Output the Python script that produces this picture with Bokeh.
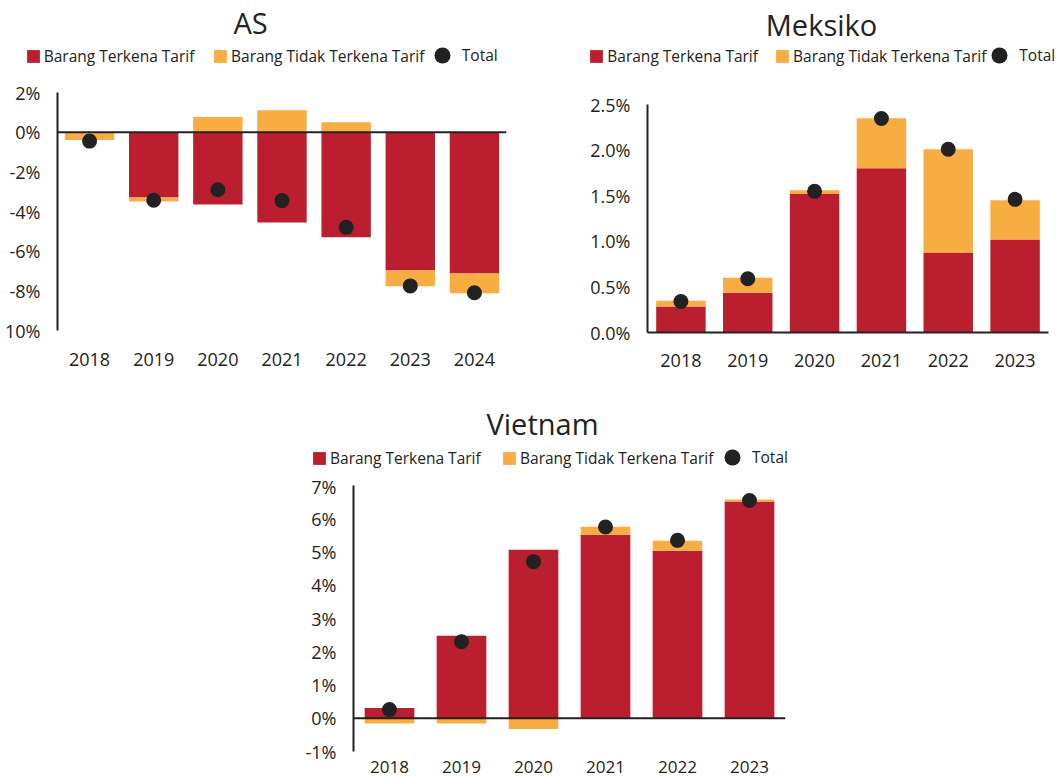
from bokeh.plotting import figure
from bokeh.models import (ColumnDataSource, FactorRange, Range1d, FixedTicker, Legend,
                          LegendItem, Label, Span, Spacer)
from bokeh.layouts import row, column
from bokeh.embed import file_html
from bokeh.resources import INLINE

# ---------------- data ----------------
as_years = ["2018", "2019", "2020", "2021", "2022", "2023", "2024"]
as_tarif = [0.0, -3.3, -3.65, -4.55, -5.3, -6.97, -7.12]
as_non_tarif = [-0.4, -0.2, 0.76, 1.1, 0.5, -0.8, -1.0]
as_total = [-0.45, -3.43, -2.9, -3.45, -4.8, -7.75, -8.1]
as_ticks = [2, 0, -2, -4, -6, -8, -10]
as_tick_labels = ["2%", "0%", "-2%", "-4%", "-6%", "-8%", "10%"]

mx_years = ["2018", "2019", "2020", "2021", "2022", "2023"]
mx_tarif = [0.286, 0.437, 1.518, 1.80, 0.877, 1.02]
mx_non_tarif = [0.063, 0.163, 0.041, 0.55, 1.133, 0.429]
mx_total = [0.34, 0.59, 1.548, 2.347, 2.01, 1.46]
mx_ticks = [0.0, 0.5, 1.0, 1.5, 2.0, 2.5]
mx_tick_labels = ["0.0%", "0.5%", "1.0%", "1.5%", "2.0%", "2.5%"]

vn_years = ["2018", "2019", "2020", "2021", "2022", "2023"]
vn_tarif = [0.31, 2.48, 5.07, 5.52, 5.04, 6.52]
vn_non_tarif = [-0.16, -0.16, -0.32, 0.24, 0.30, 0.06]
vn_total = [0.26, 2.30, 4.71, 5.75, 5.35, 6.55]
vn_ticks = [-1, 0, 1, 2, 3, 4, 5, 6, 7]
vn_tick_labels = ["-1%", "0%", "1%", "2%", "3%", "4%", "5%", "6%", "7%"]

titles = ["AS", "Meksiko", "Vietnam"]
legend_labels = ["Barang Terkena Tarif", "Barang Tidak Terkena Tarif", "Total"]

RED = "#BB1E2F"
ORANGE = "#F7AD42"
DARK = "#222222"
FONT = "Open Sans"


def stack(tarif, non):
    rb, rt, ob, ot = [], [], [], []
    for r, o in zip(tarif, non):
        rb.append(0.0)
        rt.append(r)
        if r == 0 or (r > 0) == (o > 0):
            ob.append(r)
            ot.append(r + o)
        else:
            ob.append(0.0)
            ot.append(o)
    return rb, rt, ob, ot


def legend_box(rend, lab, loc, gw, gh, standoff):
    return Legend(items=[LegendItem(label=lab, renderers=[rend], index=0)],
                  location=loc, orientation="horizontal",
                  glyph_width=gw, glyph_height=gh, label_standoff=standoff,
                  padding=0, margin=0, spacing=0,
                  border_line_color=None, background_fill_alpha=0,
                  label_text_font=FONT, label_text_font_size="15.5px",
                  label_text_color=DARK, label_text_baseline="middle")


def make_header(width, height, title, title_xy, leg_x, sq_y, dot_y):
    h = figure(x_range=Range1d(0, width), y_range=Range1d(0, height),
               width=width, height=height, output_backend="svg",
               toolbar_location=None, title=None, x_axis_type=None, y_axis_type=None,
               min_border=0, min_border_left=0, min_border_right=0,
               min_border_top=0, min_border_bottom=0, frame_align=False)
    h.outline_line_color = None
    h.xgrid.visible = False
    h.ygrid.visible = False
    h.background_fill_color = None
    h.border_fill_color = None
    # legend proxies, kept outside the visible range
    proxy = ColumnDataSource(dict(x=[-500], y=[-500]))
    r1 = h.vbar(x="x", top="y", bottom=-501, width=1, source=proxy,
                fill_color=RED, line_color=None)
    r2 = h.vbar(x="x", top="y", bottom=-501, width=1, source=proxy,
                fill_color=ORANGE, line_color=None)
    r3 = h.scatter(x="x", y="y", source=proxy, marker="circle", size=16,
                   fill_color=DARK, line_color=None)
    h.add_layout(legend_box(r1, legend_labels[0], (leg_x[0], sq_y), 16, 16, 3), "center")
    h.add_layout(legend_box(r2, legend_labels[1], (leg_x[1], sq_y), 16, 16, 3), "center")
    h.add_layout(legend_box(r3, legend_labels[2], (leg_x[2], dot_y), 40, 40, 0), "center")
    h.add_layout(Label(x=title_xy[0], y=title_xy[1], x_units="screen", y_units="screen",
                       text=title, text_align="center", text_baseline="middle",
                       text_font=FONT, text_font_size="29px", text_color=DARK))
    return h


def make_chart(years, tarif, non, total, ticks, tick_labels, y0, y1,
               width, height, borders, bar_w, x_standoff, x_font, bottom_axis_line):
    bl, br, bt, bb = borders
    p = figure(x_range=FactorRange(*years, range_padding=0),
               y_range=Range1d(y0, y1),
               width=width, height=height, output_backend="svg",
               toolbar_location=None, title=None, frame_align=False,
               min_border_left=bl, min_border_right=br,
               min_border_top=bt, min_border_bottom=bb)
    p.outline_line_color = None
    p.xgrid.visible = False
    p.ygrid.visible = False
    p.background_fill_color = None
    p.border_fill_color = None

    rb, rt, ob, ot = stack(tarif, non)
    src = ColumnDataSource(dict(x=years, rb=rb, rt=rt, ob=ob, ot=ot, total=total))
    p.vbar(x="x", bottom="rb", top="rt", width=bar_w, source=src,
           fill_color=RED, line_color=None)
    p.vbar(x="x", bottom="ob", top="ot", width=bar_w, source=src,
           fill_color=ORANGE, line_color=None)
    if not bottom_axis_line:
        p.add_layout(Span(location=0, dimension="width", line_color=DARK, line_width=2))
    p.scatter(x="x", y="total", source=src, size=15, marker="circle",
              fill_color=DARK, line_color=None)

    p.yaxis.ticker = FixedTicker(ticks=ticks)
    p.yaxis.major_label_overrides = {t: l for t, l in zip(ticks, tick_labels)}
    p.yaxis.major_tick_line_color = None
    p.yaxis.minor_tick_line_color = None
    p.yaxis.axis_line_color = DARK
    p.yaxis.axis_line_width = 2
    p.yaxis.major_label_standoff = 11
    p.yaxis.major_label_text_font = FONT
    p.yaxis.major_label_text_font_size = "18px"
    p.yaxis.major_label_text_color = DARK

    p.xaxis.major_tick_line_color = None
    p.xaxis.minor_tick_line_color = None
    p.xaxis.axis_line_color = DARK if bottom_axis_line else None
    p.xaxis.axis_line_width = 2
    p.xaxis.major_label_standoff = x_standoff
    p.xaxis.major_label_text_font = FONT
    p.xaxis.major_label_text_font_size = x_font
    p.xaxis.major_label_text_color = DARK
    return p


h_as = make_header(530, 80, titles[0], (250, 58), [24.7, 212, 421.8], 13.25, 5)
c_as = make_chart(as_years, as_tarif, as_non_tarif, as_total, as_ticks, as_tick_labels,
                  -10, 2, 530, 308, (57, 24, 12, 58), 0.77, 16, "18px", False)

h_mx = make_header(532, 80, titles[1], (291, 56.5), [58.3, 244, 449.3], 13.25, 5)
c_mx = make_chart(mx_years, mx_tarif, mx_non_tarif, mx_total, mx_ticks, mx_tick_labels,
                  0, 2.5, 532, 308, (117, 14, 24, 56), 0.74, 15, "18px", True)

h_vn = make_header(520, 86, titles[2], (252, 51), [21, 211, 422], 4.95, -3.3)
c_vn = make_chart(vn_years, vn_tarif, vn_non_tarif, vn_total, vn_ticks, vn_tick_labels,
                  -1, 7, 520, 304, (63, 25, 11, 27), 0.69, 3, "17px", False)

layout = column(
    row(column(h_as, c_as, spacing=0), column(h_mx, c_mx, spacing=0), spacing=0),
    row(Spacer(width=290, height=390), column(h_vn, c_vn, spacing=0), spacing=0),
    spacing=0)

open("out.html", "w").write(file_html(layout, INLINE))
